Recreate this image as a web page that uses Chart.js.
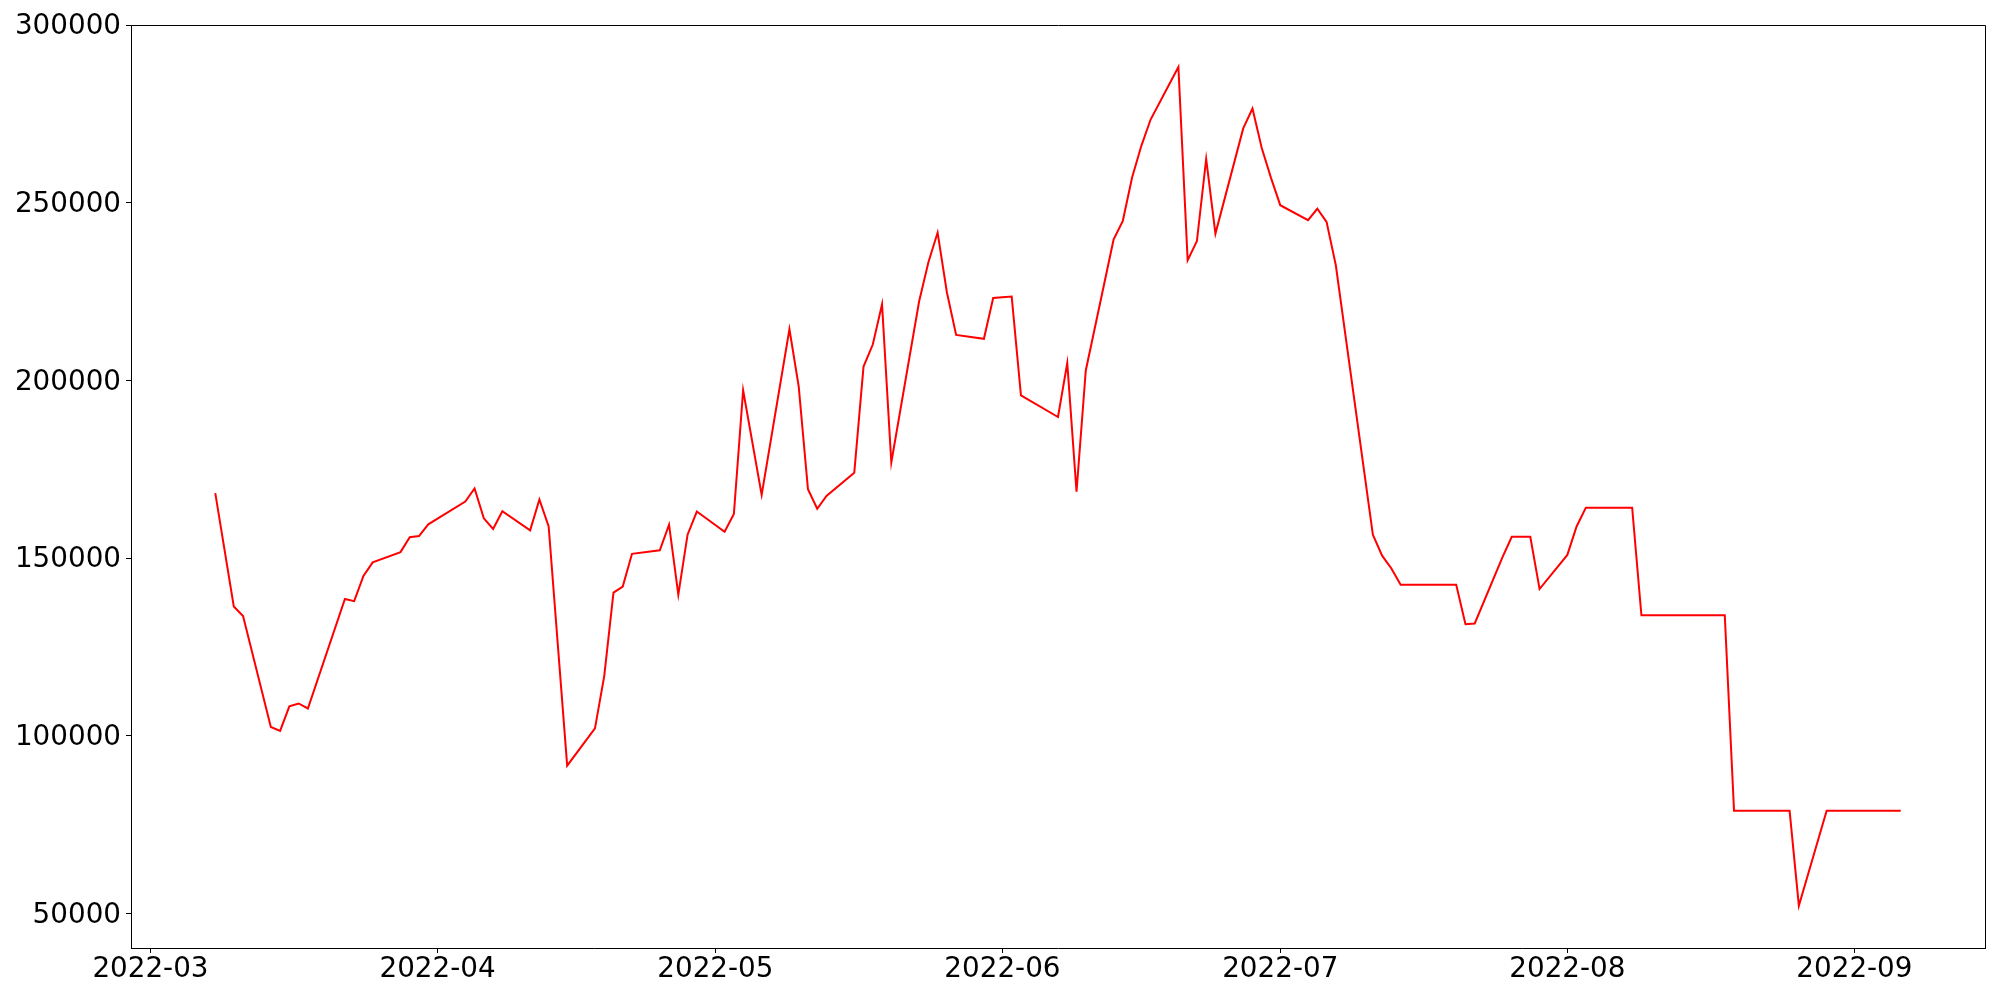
<!DOCTYPE html>
<html>
<head>
<meta charset="utf-8">
<script src="https://cdn.jsdelivr.net/npm/chart.js@4.4.1/dist/chart.umd.min.js"></script>
<style>
  body { margin: 0; background: #fff; }
  #chart { display: block; }
</style>
</head>
<body>
<canvas id="chart" width="2000" height="1000"></canvas>
<script>
const dates = [
  "2022-03-08","2022-03-10","2022-03-11","2022-03-14","2022-03-15","2022-03-16","2022-03-17","2022-03-18",
  "2022-03-22","2022-03-23","2022-03-24","2022-03-25","2022-03-28","2022-03-29","2022-03-30","2022-03-31",
  "2022-04-01","2022-04-04","2022-04-05","2022-04-06","2022-04-07","2022-04-08","2022-04-11","2022-04-12",
  "2022-04-13","2022-04-15","2022-04-18","2022-04-19","2022-04-20","2022-04-21","2022-04-22","2022-04-25",
  "2022-04-26","2022-04-27","2022-04-28","2022-04-29","2022-05-02","2022-05-03","2022-05-04","2022-05-06",
  "2022-05-09","2022-05-10","2022-05-11","2022-05-12","2022-05-13","2022-05-16","2022-05-17","2022-05-18",
  "2022-05-19","2022-05-20","2022-05-23","2022-05-24","2022-05-25","2022-05-26","2022-05-27","2022-05-30",
  "2022-05-31","2022-06-02","2022-06-03","2022-06-07","2022-06-08","2022-06-09","2022-06-10","2022-06-13",
  "2022-06-14","2022-06-15","2022-06-16","2022-06-17","2022-06-20","2022-06-21","2022-06-22","2022-06-23",
  "2022-06-24","2022-06-27","2022-06-28","2022-06-29","2022-06-30","2022-07-01","2022-07-04","2022-07-05",
  "2022-07-06","2022-07-07","2022-07-11","2022-07-12","2022-07-13","2022-07-14","2022-07-20","2022-07-21",
  "2022-07-22","2022-07-25","2022-07-26","2022-07-28","2022-07-29","2022-08-01","2022-08-02","2022-08-03",
  "2022-08-08","2022-08-09","2022-08-18","2022-08-19","2022-08-25","2022-08-26","2022-08-29","2022-09-06"
];
const values = [
  168300,136400,133700,102500,101400,108300,109100,107700,
  138500,137900,145000,148800,151700,155900,156200,159500,
  161100,165900,169600,161200,158200,163200,157800,166500,
  158900,91600,102100,116800,140300,142000,151200,152200,
  159400,139700,156600,163100,157400,162400,197200,167800,
  214400,198300,169400,163900,167500,174000,203900,210100,
  221400,176900,222200,233200,241600,224800,212800,211700,
  223200,223600,195800,189700,204900,168700,202800,239600,
  244900,257100,266000,273400,288200,233800,239200,262300,
  241300,270900,276500,265400,257000,249300,245100,248300,
  244600,232400,156600,150700,147100,142500,142500,131400,
  131600,150300,156000,156000,141300,150900,158900,164200,
  164200,133900,133900,78900,78900,52200,78900,78900
];
const xTickLabels = ["2022-03","2022-04","2022-05","2022-06","2022-07","2022-08","2022-09"];
const yTicks = [50000,100000,150000,200000,250000,300000];

// days counted from the first tick month
const origin = Date.UTC(2022, 2, 1);
function dayOf(s) {
  const p = s.split("-").map(Number);
  return (Date.UTC(p[0], p[1] - 1, p[2] || 1) - origin) / 86400000;
}

const points = dates.map((d, i) => ({ x: dayOf(d), y: values[i] }));
const xFirst = points[0].x, xLast = points[points.length - 1].x;
const xPad = (xLast - xFirst) * 0.05;

Chart.defaults.font.family = "'DejaVu Sans', sans-serif";
Chart.defaults.font.size = 27.8;
Chart.defaults.color = "#000";

const frame = {
  id: "frame",
  afterDraw(chart) {
    const a = chart.chartArea, ctx = chart.ctx;
    ctx.save();
    ctx.strokeStyle = "#000";
    ctx.lineWidth = 1;
    ctx.beginPath();
    ctx.moveTo(Math.round(a.left) + 0.5, Math.round(a.top) + 0.5);
    ctx.lineTo(Math.round(a.right) + 0.5, Math.round(a.top) + 0.5);
    ctx.lineTo(Math.round(a.right) + 0.5, Math.round(a.bottom) + 0.5);
    ctx.stroke();
    ctx.restore();
  }
};

new Chart(document.getElementById("chart"), {
  type: "line",
  data: {
    datasets: [{
      data: points,
      borderColor: "#ff0000",
      borderWidth: 2,
      pointRadius: 0,
      tension: 0,
      fill: false
    }]
  },
  options: {
    responsive: false,
    animation: false,
    layout: { padding: { left: 0, top: 25, right: 15, bottom: 0 } },
    plugins: { legend: { display: false }, tooltip: { enabled: false } },
    scales: {
      x: {
        type: "linear",
        min: xFirst - xPad,
        max: xLast + xPad,
        afterBuildTicks(scale) {
          scale.ticks = xTickLabels.map(l => ({ value: dayOf(l) }));
        },
        afterFit(scale) { scale.height = 52; },
        ticks: {
          padding: 0,
          maxRotation: 0,
          autoSkip: false,
          callback: (v, i) => xTickLabels[i]
        },
        grid: { drawOnChartArea: false, drawTicks: true, tickLength: 5, tickColor: "#000", tickWidth: 1 },
        border: { display: true, color: "#000", width: 1 }
      },
      y: {
        min: 40300,
        max: 300000,
        afterBuildTicks(scale) {
          scale.ticks = yTicks.map(v => ({ value: v }));
        },
        afterFit(scale) { scale.width = 131; },
        ticks: {
          padding: 5,
          labelOffset: 2,
          autoSkip: false,
          callback: v => String(v)
        },
        grid: { drawOnChartArea: false, drawTicks: true, tickLength: 5, tickColor: "#000", tickWidth: 1 },
        border: { display: true, color: "#000", width: 1 }
      }
    }
  },
  plugins: [frame]
});
</script>
</body>
</html>
